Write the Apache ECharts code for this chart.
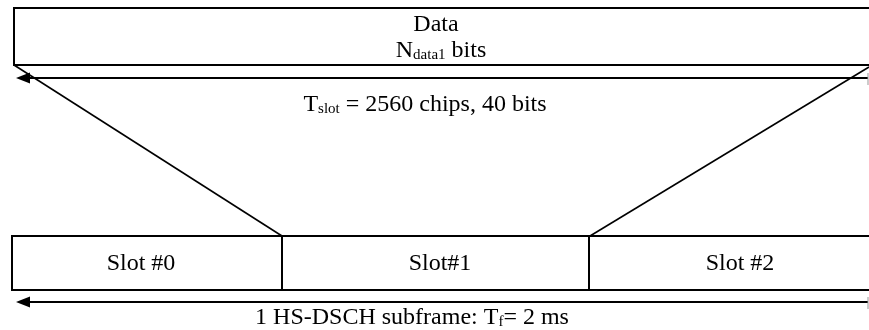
<!DOCTYPE html>
<html>
<head>
<meta charset="utf-8">
<script src="https://cdn.jsdelivr.net/npm/echarts@6/dist/echarts.min.js"></script>
<style>
  html, body { margin: 0; padding: 0; background: #fff; }
  #chart { width: 869px; height: 330px; }
</style>
</head>
<body>
<div id="chart"></div>
<script>
// diagram, in the frame's own units (x across, y down)
const slotNames = ['Slot #0', 'Slot#1', 'Slot #2']
const slotEdges = [12, 282, 589, 900]
const slotRow = [236, 290]
const slotTextX = [141, 440, 740]
const dataBox = [14, 900, 8, 65]
const dataLabel = [
  // [x, y, text]
  [436, 25, 'Data'],
  [441, 51, 'N{sub|data1} bits']
]
const arrows = [
  // [tip, end, y]
  [16, 868, 78],
  [16, 868, 302]
]
const fanLines = [
  [[14, 65], [282, 236]],
  [[869, 67], [590, 236]]
]
const captions = [
  // [x, y, text]
  [425, 105, 'T{sub|slot} = 2560 chips, 40 bits'],
  [412, 318, '1 HS-DSCH subframe: T{sub|f}= 2 ms']
]

const FONT = '"Liberation Serif", "Times New Roman", serif'
const FS = 24
const rich = {
  sub: { fontFamily: FONT, fontSize: 15, verticalAlign: 'bottom', padding: [9, 0, 0, 0] }
}

const boxes = [
  [dataBox[0], dataBox[1], dataBox[2], dataBox[3], 0]
]
slotNames.forEach((name, i) => {
  boxes.push([slotEdges[i], slotEdges[i + 1], slotRow[0], slotRow[1], slotTextX[i]])
})
const boxText = [''].concat(slotNames)

const texts = dataLabel.concat(captions)

const option = {
  animation: false,
  backgroundColor: '#fff',
  grid: { left: 0, right: 0, top: 0, bottom: 0 },
  xAxis: { type: 'value', min: 0, max: 869, show: false },
  yAxis: { type: 'value', min: 0, max: 330, inverse: true, show: false },
  series: [
    {
      type: 'custom',
      clip: true,
      data: boxes,
      renderItem: function (params, api) {
        const p0 = api.coord([api.value(0), api.value(2)])
        const p1 = api.coord([api.value(1), api.value(3)])
        const tx = api.coord([api.value(4), 0])[0]
        return {
          type: 'group',
          children: [
            {
              type: 'rect',
              shape: { x: p0[0], y: p0[1], width: p1[0] - p0[0], height: p1[1] - p0[1] },
              style: { fill: '#fff', stroke: '#000', lineWidth: 2 }
            },
            {
              type: 'text',
              x: tx,
              y: (p0[1] + p1[1]) / 2 + 1,
              style: {
                text: boxText[params.dataIndex],
                fontFamily: FONT,
                fontSize: FS,
                fill: '#000',
                align: 'center',
                verticalAlign: 'middle'
              }
            }
          ]
        }
      }
    },
    {
      type: 'lines',
      coordinateSystem: 'cartesian2d',
      silent: true,
      lineStyle: { color: '#000', width: 1.6, opacity: 1 },
      data: fanLines.map(c => ({ coords: c }))
    },
    {
      type: 'custom',
      clip: true,
      data: arrows,
      renderItem: function (params, api) {
        const a = api.coord([api.value(0), api.value(2)])
        const b = api.coord([api.value(1), api.value(2)])
        return {
          type: 'group',
          children: [
            {
              type: 'line',
              shape: { x1: a[0] + 6, y1: a[1], x2: b[0], y2: b[1] },
              style: { stroke: '#000', lineWidth: 2 }
            },
            {
              type: 'polygon',
              shape: { points: [[a[0], a[1]], [a[0] + 14, a[1] - 5.5], [a[0] + 14, a[1] + 5.5]] },
              style: { fill: '#000' }
            },
            {
              type: 'line',
              shape: { x1: b[0], y1: b[1] - 5, x2: b[0], y2: b[1] + 7 },
              style: { stroke: '#999', lineWidth: 1 }
            }
          ]
        }
      }
    },
    {
      type: 'custom',
      data: texts.map(t => [t[0], t[1]]),
      renderItem: function (params, api) {
        const p = api.coord([api.value(0), api.value(1)])
        return {
          type: 'text',
          x: p[0],
          y: p[1],
          style: {
            text: texts[params.dataIndex][2],
            fontFamily: FONT,
            fontSize: FS,
            fill: '#000',
            align: 'center',
            verticalAlign: 'middle',
            rich: rich
          }
        }
      }
    }
  ]
}

const chart = echarts.init(document.getElementById('chart'), null, { renderer: 'canvas' })
chart.setOption(option)
</script>
</body>
</html>
